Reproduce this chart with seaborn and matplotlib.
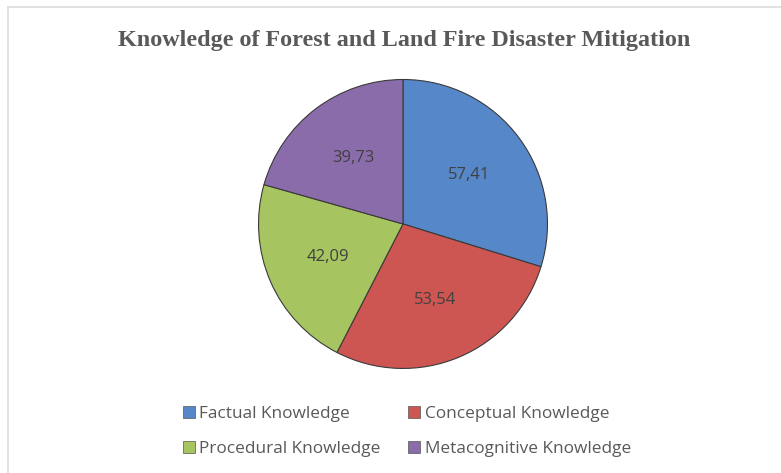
import matplotlib
matplotlib.use("Agg")
import matplotlib.pyplot as plt
import seaborn as sns
from matplotlib.lines import Line2D
from matplotlib.patches import Patch

sns.set_theme(style="white")
plt.rcParams['font.family'] = ['Open Sans', 'DejaVu Sans']

categories = ["Factual Knowledge", "Conceptual Knowledge", "Procedural Knowledge", "Metacognitive Knowledge"]
values = [57.41, 53.54, 42.09, 39.73]
value_labels = ["57,41", "53,54", "42,09", "39,73"]
colors = ["#5687c8", "#cd5653", "#a6c45f", "#8a6cab"]
title = "Knowledge of Forest and Land Fire Disaster Mitigation"

fig = plt.figure(figsize=(7.81, 4.73), dpi=100)
fig.patch.set_facecolor("white")

ax = fig.add_axes([0.329, 0.218, 0.374, 0.617])
wedges, texts = ax.pie(values, labels=value_labels, colors=colors, startangle=90,
                       counterclock=False, labeldistance=0.57,
                       wedgeprops=dict(edgecolor="#3a3a3a", linewidth=0.8),
                       textprops=dict(color="#404040", fontsize=12))
for t in texts:
    t.set_ha("center")
    t.set_va("center")
ax.set_xlim(-1.01, 1.01)
ax.set_ylim(-1.01, 1.01)
ax.set_aspect("equal")

fig.text(0.517, 0.915, title, ha="center", va="center", fontsize=17.4,
         fontweight="bold", color="#595959", family="Liberation Serif")

# row-major legend order
order = [0, 2, 1, 3]
handles = [Patch(facecolor=colors[i], edgecolor="#555555", linewidth=0.5) for i in order]
leg_labels = [categories[i] for i in order]
leg = fig.legend(handles, leg_labels, loc="center", bbox_to_anchor=(0.521, 0.088),
                 ncol=2, frameon=False, fontsize=12.4, handlelength=0.7,
                 handleheight=0.7, handletextpad=0.25, columnspacing=1.6,
                 labelspacing=1.1)
for t in leg.get_texts():
    t.set_color("#595959")

fig.add_artist(Line2D([8/781, 8/781], [0, 1 - 7/473], transform=fig.transFigure,
                      color="#dddddd", linewidth=1.2))
fig.add_artist(Line2D([8/781, 1], [1 - 7/473, 1 - 7/473], transform=fig.transFigure,
                      color="#dddddd", linewidth=1.2))

fig.savefig("out.png", dpi=100)
